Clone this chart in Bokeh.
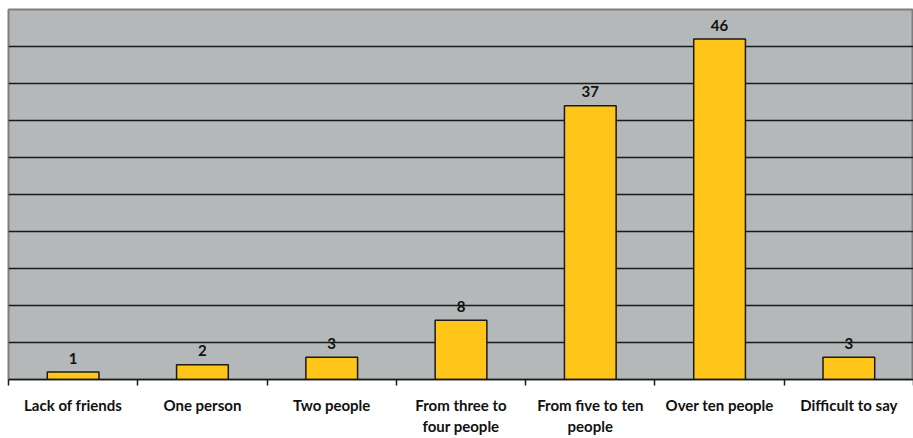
from bokeh.plotting import figure
from bokeh.models import FixedTicker, Range1d, ColumnDataSource
from bokeh.core.properties import value
from bokeh.embed import file_html
from bokeh.resources import INLINE

categories = ["Lack of friends", "One person", "Two people", "From three to four people",
              "From five to ten people", "Over ten people", "Difficult to say"]
tick_labels = ["Lack of friends", "One person", "Two people", "From three to\nfour people",
               "From five to ten\npeople", "Over ten people", "Difficult to say"]
values = [1, 2, 3, 8, 37, 46, 3]

FONT = "Lato"

xs = [i + 0.5 for i in range(len(categories))]
src = ColumnDataSource(dict(x=xs, top=values, label=[str(v) for v in values]))

p = figure(width=913, height=438, output_backend="svg", toolbar_location=None,
           x_range=Range1d(0, len(categories)), y_range=Range1d(0, 50),
           min_border_left=8, min_border_right=0, min_border_top=9, min_border_bottom=57)
p.background_fill_color = "#b4b8b8"
p.border_fill_color = "white"
p.outline_line_color = "#7f7f7f"
p.outline_line_width = 2

p.vbar(x="x", top="top", width=0.4, bottom=0, source=src,
       fill_color="#ffc619", line_color="#1a1a1a", line_width=1.5)
p.text(x="x", y="top", text="label", source=src, text_align="center",
       text_baseline="alphabetic", y_offset=-14, text_font=value(FONT),
       text_font_style="bold", text_font_size="15px", text_color="#111111")

p.yaxis.visible = False
p.ygrid.ticker = FixedTicker(ticks=list(range(0, 51, 5)))
p.ygrid.grid_line_color = "#1a1a1a"
p.ygrid.grid_line_width = 1.5
p.xgrid.visible = False

ax = p.xaxis[0]
ax.ticker = FixedTicker(ticks=xs, minor_ticks=list(range(len(categories) + 1)))
ax.major_label_overrides = {x: lab for x, lab in zip(xs, tick_labels)}
ax.major_tick_out = 0
ax.major_tick_in = 0
ax.minor_tick_out = 6
ax.minor_tick_in = 0
ax.minor_tick_line_color = "#1a1a1a"
ax.minor_tick_line_width = 1.5
ax.axis_line_color = "#1a1a1a"
ax.axis_line_width = 1.5
ax.major_label_standoff = 10
ax.major_label_text_font = FONT
ax.major_label_text_font_style = "bold"
ax.major_label_text_font_size = "15px"
ax.major_label_text_line_height = 1.2
ax.major_label_text_color = "#111111"

open("out.html", "w").write(file_html(p, INLINE))
